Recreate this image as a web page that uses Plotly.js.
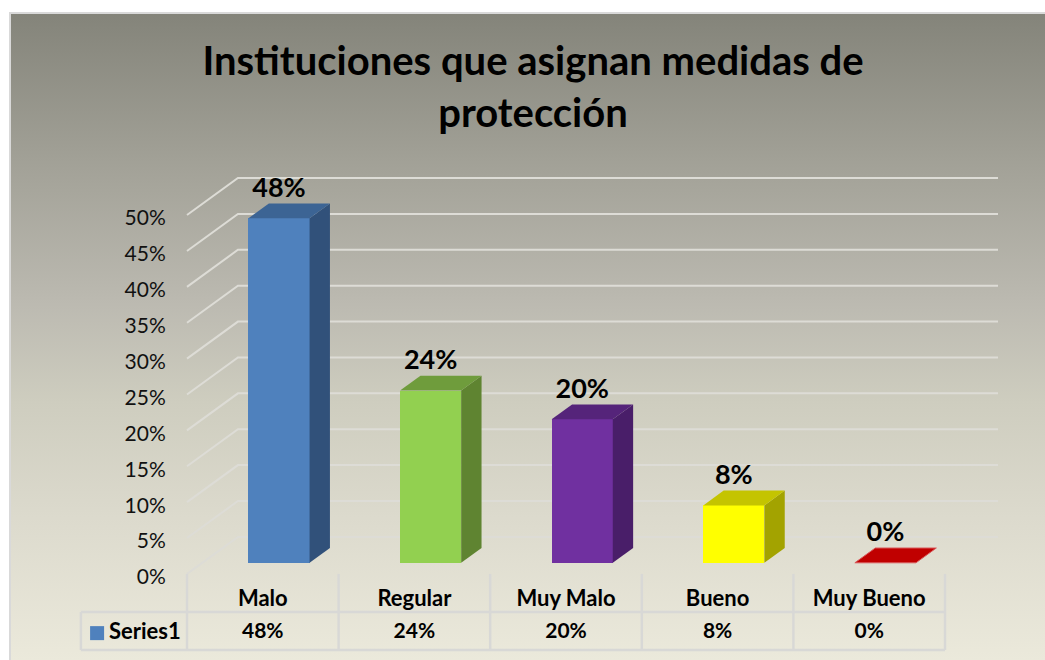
<!DOCTYPE html>
<html><head><meta charset="utf-8">
<script src="https://cdn.plot.ly/plotly-3.0.1.min.js"></script>
<style>
html,body{margin:0;padding:0;background:#fff;width:1045px;height:660px;overflow:hidden}
#frame{position:absolute;left:9px;top:12px;width:1036px;height:648px;box-sizing:border-box;border-left:2px solid #d9d9d9;border-top:2px solid #d9d9d9;
background:linear-gradient(to bottom,#84847a 0%,#a2a197 23%,#bcbab1 45%,#cecdbf 60%,#dcdacd 78%,#ebe9db 100%)}
#chart{position:absolute;left:0;top:0;width:1045px;height:660px}
</style></head><body>
<div id="frame"></div><div id="chart"></div>
<script>
const categories = ['Malo','Regular','Muy Malo','Bueno','Muy Bueno'];
const values = [48,24,20,8,0];
const frontColors = ['#4f81bd','#92d050','#7030a0','#ffff00','#c00000'];
const topColors = ['#3c6494','#6f9c3c','#55247a','#c4c400','#c00000'];
const sideColors = ['#31517a','#5f8431','#491e69','#a3a300','#c00000'];
const yTicks = [0,5,10,15,20,25,30,35,40,45,50];
const seriesName = 'Series1';

// oblique projection, in axis units
const DX = 0.336, DY = 5.16, D0 = 0.3, D1 = 0.7, BAR_W = 0.403, BAR_X = 0.107;
const GRID = '#dddcd6', TABLE = '#d8d8d6';
const ROW1 = -5.3, ROW2 = -10.6, TABLE_LEFT = -1.2;
const font = 'Lato, Carlito, sans-serif';
const traces = [];

const L=70,ZERO_X=187,R=998,B=655,ZERO_Y=574,PXY=7.17,PXX=151.6,TOP=56;
const yMin=-(B-ZERO_Y)/PXY, xMin=-0.5-(ZERO_X-L)/PXX, xMax=xMin+(R-L)/PXX;

// gridlines, kept below the bars
const shapes = [];
yTicks.forEach(t => {
  shapes.push({type:'path',layer:'below',xref:'x',yref:'y',line:{color:GRID,width:2},
    path:`M${-0.5},${t} L${-0.5+DX},${t+DY} L${xMax},${t+DY}`});
});

// front faces
traces.push({type:'bar',name:seriesName,showlegend:false,
  x:categories.map((c,i)=>i+BAR_X),
  y:values, base:values.map(()=>D0*DY), width:BAR_W,
  marker:{color:frontColors,line:{width:0}}});

// top and side faces
categories.forEach((c,i)=>{
  const l=i+BAR_X-BAR_W/2, r=l+BAR_W, b=D0*DY, t=b+values[i], dx=(D1-D0)*DX, dy=(D1-D0)*DY;
  if(values[i]>0) traces.push({type:'scatter',mode:'lines',fill:'toself',fillcolor:sideColors[i],
    line:{width:0,color:sideColors[i]},hoverinfo:'skip',showlegend:false,
    x:[r,r+dx,r+dx,r,r],y:[b,b+dy,t+dy,t,b]});
  traces.push({type:'scatter',mode:'lines',fill:'toself',fillcolor:topColors[i],
    line:{width:values[i]>0?0:1,color:values[i]>0?topColors[i]:'#d9595b'},hoverinfo:'skip',showlegend:false,
    x:[l,r,r+dx,l+dx,l],y:[t,t,t+dy,t+dy,t]});
});

// data labels
traces.push({type:'scatter',mode:'text',hoverinfo:'skip',showlegend:false,cliponaxis:false,
  x:categories.map((c,i)=>i+BAR_X),
  y:values.map(v=>v+D1*DY),
  text:values.map(v=>v+'%'),textposition:'top center',
  textfont:{family:font,size:27,color:'#000',weight:700}});

// data table
const tx=[], ty=[];
for(let i=0;i<=categories.length;i++){ tx.push(i-0.5,i-0.5,null); ty.push(0,ROW2,null); }
tx.push(TABLE_LEFT,4.5,null, TABLE_LEFT,4.5,null, TABLE_LEFT,TABLE_LEFT,null);
ty.push(ROW1,ROW1,null, ROW2,ROW2,null, ROW1,ROW2,null);
traces.push({type:'scatter',mode:'lines',x:tx,y:ty,line:{color:TABLE,width:2.5},hoverinfo:'skip',showlegend:false,cliponaxis:false});
const ROW_TEXT=(ROW1+ROW2)/2-0.3;
traces.push({type:'scatter',mode:'text',hoverinfo:'skip',showlegend:false,cliponaxis:false,
  x:categories.map((c,i)=>i),y:values.map(()=>ROW_TEXT),
  text:values.map(v=>v+'%'),textposition:'middle center',
  textfont:{family:font,size:21,color:'#000',weight:700}});
traces.push({type:'scatter',mode:'markers',hoverinfo:'skip',showlegend:false,cliponaxis:false,
  x:[TABLE_LEFT+0.107],y:[ROW_TEXT],
  marker:{symbol:'square',size:14,color:frontColors[0]}});
traces.push({type:'scatter',mode:'text',hoverinfo:'skip',showlegend:false,cliponaxis:false,
  x:[TABLE_LEFT+0.185],y:[ROW_TEXT],text:[seriesName],textposition:'middle right',
  textfont:{family:font,size:22,color:'#000',weight:700}});

const layout = {
  width:1045,height:660,paper_bgcolor:'rgba(0,0,0,0)',plot_bgcolor:'rgba(0,0,0,0)',
  margin:{l:L,r:1045-R,b:660-B,t:ZERO_Y-TOP*PXY,pad:0},
  showlegend:false,shapes:shapes,
  title:{text:'Instituciones que asignan medidas de<br>protección',x:533/1045,xanchor:'center',y:0.887,yanchor:'top',
    font:{family:font,size:40,color:'#000',weight:700}},
  xaxis:{range:[xMin,xMax],anchor:'free',position:(-yMin)/(TOP-yMin),tickmode:'array',tickvals:[0,1,2,3,4],ticktext:categories,
    showgrid:false,zeroline:false,showline:false,ticks:'outside',ticklen:5,tickcolor:'rgba(0,0,0,0)',
    tickfont:{family:font,size:22,color:'#000',weight:700}},
  yaxis:{range:[yMin,TOP],anchor:'free',position:(ZERO_X-L)/(R-L),tickmode:'array',tickvals:yTicks,ticktext:yTicks.map(t=>t+'%'),
    showgrid:false,zeroline:false,showline:false,ticks:'outside',ticklen:17,tickcolor:'rgba(0,0,0,0)',ticklabelshift:3,
    tickfont:{family:font,size:21,color:'#111'}},
  bargap:0
};
Plotly.newPlot('chart',traces,layout,{displayModeBar:false,responsive:false});
</script></body></html>
